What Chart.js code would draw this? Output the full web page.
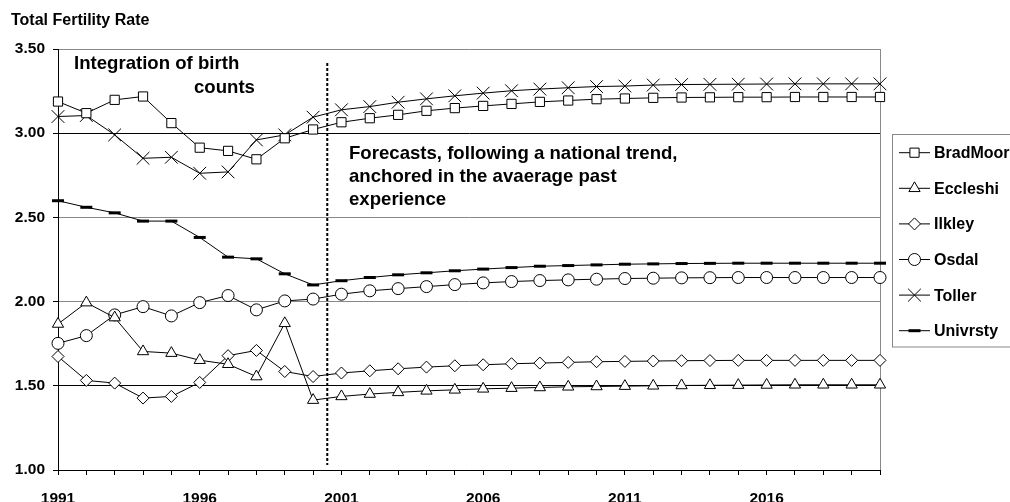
<!DOCTYPE html>
<html><head><meta charset="utf-8">
<script src="https://cdn.jsdelivr.net/npm/chart.js@4/dist/chart.umd.min.js"></script>
<style>html,body{margin:0;padding:0;background:#fff;overflow:hidden}#wrap{width:1010px;height:502px}</style>
</head><body><div id="wrap"><canvas id="c" width="1010" height="502"></canvas></div>
<script>
const years = ['1991','1992','1993','1994','1995','1996','1997','1998','1999','2000',
  '2001','2002','2003','2004','2005','2006','2007','2008','2009','2010',
  '2011','2012','2013','2014','2015','2016','2017','2018','2019','2020'];
const yTicks = [1.00, 1.50, 2.00, 2.50, 3.00, 3.50];
const bradMoor = [3.188,3.119,3.198,3.218,3.060,2.914,2.895,2.845,2.970,3.022,
  3.065,3.089,3.109,3.133,3.149,3.162,3.174,3.186,3.194,3.202,
  3.206,3.210,3.212,3.213,3.214,3.214,3.215,3.215,3.215,3.215];
const eccleshi = [1.867,1.994,1.905,1.704,1.694,1.652,1.628,1.555,1.871,1.415,
  1.437,1.451,1.461,1.470,1.476,1.482,1.486,1.490,1.494,1.496,
  1.498,1.500,1.502,1.503,1.504,1.505,1.506,1.506,1.506,1.506];
const ilkley = [1.674,1.532,1.516,1.427,1.437,1.520,1.679,1.710,1.585,1.555,
  1.576,1.589,1.601,1.611,1.619,1.625,1.631,1.635,1.639,1.643,
  1.645,1.647,1.649,1.650,1.651,1.651,1.651,1.651,1.651,1.651];
const osdal = [1.752,1.798,1.921,1.970,1.915,1.994,2.036,1.951,2.004,2.015,
  2.044,2.064,2.077,2.089,2.101,2.111,2.119,2.125,2.129,2.133,
  2.137,2.139,2.141,2.142,2.143,2.143,2.143,2.143,2.143,2.143];
const toller = [3.099,3.105,2.990,2.851,2.857,2.762,2.770,2.960,2.990,3.095,
  3.139,3.158,3.184,3.204,3.222,3.238,3.252,3.262,3.270,3.277,
  3.280,3.286,3.289,3.290,3.291,3.292,3.293,3.293,3.293,3.293];
const univrsty = [2.599,2.560,2.527,2.478,2.478,2.381,2.264,2.254,2.165,2.099,
  2.124,2.143,2.159,2.171,2.183,2.193,2.202,2.210,2.214,2.218,
  2.222,2.224,2.226,2.227,2.228,2.228,2.228,2.228,2.228,2.228];
const seriesNames = ['BradMoor','Eccleshi','Ilkley','Osdal','Toller','Univrsty'];
const yTitle = 'Total Fertility Rate';
const note1 = ['Integration of birth', 'counts'];
const note2 = ['Forecasts, following a national trend,', 'anchored in the avaerage past', 'experience'];
const forecastSplit = 9.5; // between 2000 and 2001 (category index)

const FONT = '"Liberation Sans", Arial, Helvetica, sans-serif';
const styles = [
  {pointStyle:'rect', radius:6.5, bw:1},
  {pointStyle:'triangle', radius:6.5, bw:1},
  {pointStyle:'rectRot', radius:6, bw:1},
  {pointStyle:'circle', radius:6, bw:1},
  {pointStyle:'crossRot', radius:9, bw:1},
  {pointStyle:'line', radius:6, bw:3}
];
const allData = [bradMoor, eccleshi, ilkley, osdal, toller, univrsty];
const datasets = allData.map((d, i) => ({
  label: seriesNames[i], data: d,
  borderColor:'#000', borderWidth:1, backgroundColor:'#fff',
  pointStyle: styles[i].pointStyle, pointRadius: styles[i].radius,
  pointBorderWidth: styles[i].bw, pointBorderColor:'#000', pointBackgroundColor:'#fff',
  pointHoverRadius: styles[i].radius, tension:0, fill:false
}));

function drawMarker(ctx, st, x, y){
  ctx.save();
  ctx.strokeStyle = '#000'; ctx.fillStyle = '#fff'; ctx.lineWidth = st.bw;
  if (Chart.helpers && Chart.helpers.drawPoint) {
    Chart.helpers.drawPoint(ctx, {pointStyle: st.pointStyle, radius: st.radius, rotation: 0, borderWidth: st.bw}, x, y);
  }
  ctx.restore();
}

const decor = {
  id:'decor',
  beforeDatasetsDraw(chart){
    const {ctx, chartArea:a, scales:{x, y}} = chart;
    ctx.save();
    ctx.strokeStyle = '#888'; ctx.lineWidth = 1;
    ctx.beginPath(); ctx.moveTo(Math.round(a.right)+0.5, a.top); ctx.lineTo(Math.round(a.right)+0.5, a.bottom); ctx.stroke();
    const xp = x.getPixelForValue(forecastSplit);
    ctx.strokeStyle = '#000'; ctx.lineWidth = 2; ctx.setLineDash([3,2]);
    ctx.beginPath(); ctx.moveTo(xp, y.getPixelForValue(3.417)); ctx.lineTo(xp, y.getPixelForValue(1.03)); ctx.stroke();
    ctx.restore();
  },
  afterDraw(chart){
    const {ctx} = chart;
    ctx.save();
    ctx.fillStyle = '#000';
    ctx.textBaseline = 'alphabetic'; ctx.textAlign = 'left';
    ctx.font = 'bold 16px ' + FONT;
    ctx.fillText(yTitle, 11, 25);
    ctx.font = 'bold 18.6px ' + FONT;
    ctx.fillText(note1[0], 74, 69);
    ctx.fillText(note1[1], 194, 93);
    note2.forEach((t, i) => ctx.fillText(t, 349, 158.5 + i * 23.3));
    ctx.strokeStyle = '#888'; ctx.lineWidth = 1;
    ctx.strokeRect(892.5, 134.5, 130, 212.5);
    ctx.font = 'bold 16px ' + FONT; ctx.textBaseline = 'middle';
    chart.data.datasets.forEach((ds, i) => {
      const yy = 152.7 + i * 35.6;
      ctx.strokeStyle = '#000'; ctx.lineWidth = 1;
      ctx.beginPath(); ctx.moveTo(899, yy); ctx.lineTo(930, yy); ctx.stroke();
      drawMarker(ctx, styles[i], 914.5, yy);
      ctx.fillStyle = '#000';
      ctx.fillText(ds.label, 934, yy + 1);
    });
    ctx.restore();
  }
};

new Chart(document.getElementById('c'), {
  type:'line',
  data:{labels: years, datasets},
  options:{
    responsive:false, animation:false, devicePixelRatio:1,
    layout:{padding:{left:0, right:130, top:49, bottom:0}},
    plugins:{legend:{display:false}, tooltip:{enabled:false}, title:{display:false}},
    scales:{
      x:{
        type:'category', offset:false,
        grid:{display:true, drawOnChartArea:false, drawTicks:true, tickLength:5, color:'#000', tickColor:'#000'},
        border:{display:true, color:'#000', width:1},
        ticks:{autoSkip:false, maxRotation:0, minRotation:0, padding:14, color:'#000',
          font:{family:FONT, size:15.5, weight:'bold'},
          callback:(v, i) => (i % 5 === 0 ? years[i] : '')},
        afterFit(s){ s.height = 32; }
      },
      y:{
        min:1, max:3.5,
        afterBuildTicks(s){ s.ticks = yTicks.map(v => ({value:v})); },
        grid:{drawTicks:true, tickLength:5, tickColor:'#000',
          color: c => (c.tick && (c.tick.value === 3 || c.tick.value === 1.5 || c.tick.value === 1)) ? '#000' : '#888'},
        border:{display:true, color:'#000', width:1},
        ticks:{padding:8, color:'#000', font:{family:FONT, size:15.5, weight:'bold'},
          callback: v => Number(v).toFixed(2)},
        afterFit(s){ s.width = 58; }
      }
    }
  },
  plugins:[decor]
});
</script></body></html>
